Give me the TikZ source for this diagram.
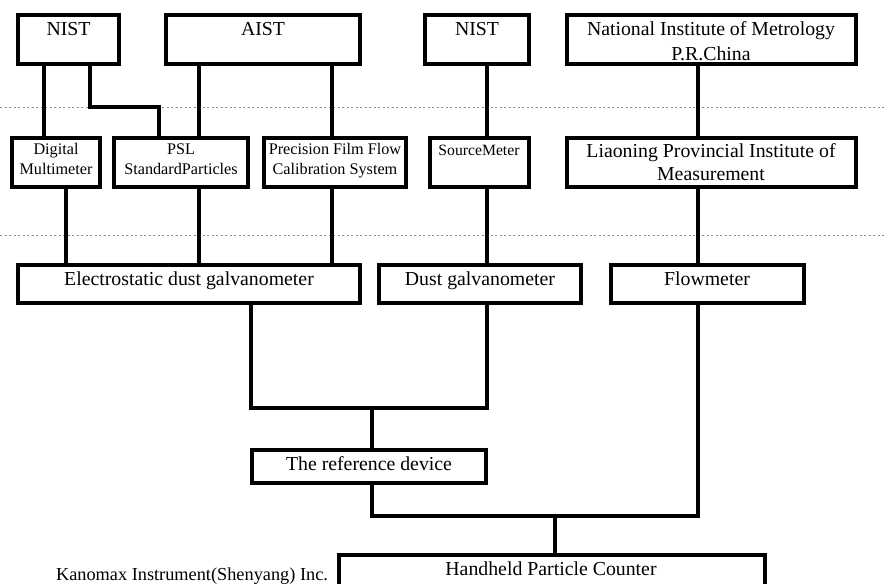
\documentclass[tikz,border=0pt]{standalone}
\usepackage{fontspec}
\setmainfont{Liberation Serif}
\newcommand\twol[2]{\begin{tabular}[t]{@{}c@{}}#1\\#2\end{tabular}}
\newcommand\mkbox[5]{\node[box, minimum width={(#4-#2-3.6)*1pt}, minimum height={(#5-#3-3.6)*1pt}] (#1) at ({(#2+#4)/2},{(#3+#5)/2}) {};}
\begin{document}
\begin{tikzpicture}[x=1pt, y=-1pt,
  box/.style={draw=black, line width=3.6pt, inner sep=0pt, fill=white},
  wire/.style={draw=black, line width=3.2pt},
  guide/.style={draw=black!45, line width=0.8pt, dash pattern=on 2pt off 2.5pt},
  big/.style={font=\fontsize{19.8}{25}\selectfont, anchor=base, inner sep=0pt},
  bigb/.style={font=\fontsize{19.8}{23}\selectfont, anchor=base, inner sep=0pt},
  small/.style={font=\fontsize{16.2}{20}\selectfont, anchor=base, inner sep=0pt},
  tiny/.style={font=\fontsize{15.7}{20}\selectfont, anchor=base, inner sep=0pt}]
\useasboundingbox (0,0) rectangle (887,584);
\clip (0,0) rectangle (887,584);
% guide lines
\draw[guide] (0,107) -- (887,107);
\draw[guide] (0,235) -- (887,235);
% boxes
\mkbox{nista}{16}{13}{121}{66}
\mkbox{aist}{164}{13}{362}{66}
\mkbox{nistb}{423}{13}{531}{66}
\mkbox{nim}{565}{13}{858}{66}
\mkbox{dm}{10}{136}{102}{189}
\mkbox{psl}{112}{136}{250}{189}
\mkbox{pff}{262}{136}{408}{189}
\mkbox{sm}{428}{136}{531}{189}
\mkbox{lpim}{565}{136}{858}{189}
\mkbox{eg}{16}{263}{362}{305}
\mkbox{dg}{377}{263}{583}{305}
\mkbox{fm}{609}{263}{806}{305}
\mkbox{ref}{250}{448}{488}{485}
\mkbox{hpc}{337}{553}{767}{610}
% texts
\node[big] (tnista) at (68.5,35) {NIST};
\node[big] (taist) at (263,35) {AIST};
\node[big] (tnistb) at (477,35) {NIST};
\node[big] (tnim) at (711,35) {\twol{National Institute of Metrology}{P.R.China}};
\node[small] (tdm) at (56,154) {\twol{Digital}{Multimeter}};
\node[small] (tpsl) at (181,154) {\twol{PSL}{StandardParticles}};
\node[small] (tpff) at (335,154) {\twol{Precision Film Flow}{Calibration System}};
\node[tiny] (tsm) at (479,155) {SourceMeter};
\node[bigb] (tlpim) at (711,157) {\twol{Liaoning Provincial Institute of}{Measurement}};
\node[big] (teg) at (189,285) {Electrostatic dust galvanometer};
\node[big] (tdg) at (480,285) {Dust galvanometer};
\node[big] (tfm) at (707,285) {Flowmeter};
\node[big] (tref) at (369,470) {The reference device};
\node[big] (thpc) at (551,575) {Handheld Particle Counter};
\node[big, font=\fontsize{18.3}{22}\selectfont] (tkan) at (192,580) {Kanomax Instrument(Shenyang) Inc.};
% connectors
\draw[wire] (44,0 |- nista.south) -- (44,0 |- dm.north);
\draw[wire, line join=miter] (90,0 |- nista.south) -- (90,107) -- (159,107) -- (159,0 |- psl.north);
\draw[wire] (199,0 |- aist.south) -- (199,0 |- psl.north);
\draw[wire] (332,0 |- aist.south) -- (332,0 |- pff.north);
\draw[wire] (487,0 |- nistb.south) -- (487,0 |- sm.north);
\draw[wire] (698,0 |- nim.south) -- (698,0 |- lpim.north);
\draw[wire] (66,0 |- dm.south) -- (66,0 |- eg.north);
\draw[wire] (199,0 |- psl.south) -- (199,0 |- eg.north);
\draw[wire] (332,0 |- pff.south) -- (332,0 |- eg.north);
\draw[wire] (487,0 |- sm.south) -- (487,0 |- dg.north);
\draw[wire] (698,0 |- lpim.south) -- (698,0 |- fm.north);
\coordinate (j1) at (372,408);
\coordinate (j2) at (555,516);
\draw[wire, line join=miter] (251,0 |- eg.south) -- (251,408) -- (487,408) -- (487,0 |- dg.south);
\draw[wire] (j1) -- (372,0 |- ref.north);
\draw[wire, line join=miter] (372,0 |- ref.south) -- (372,516) -- (698,516) -- (698,0 |- fm.south);
\draw[wire] (j2) -- (555,0 |- hpc.north);
\end{tikzpicture}
\end{document}
